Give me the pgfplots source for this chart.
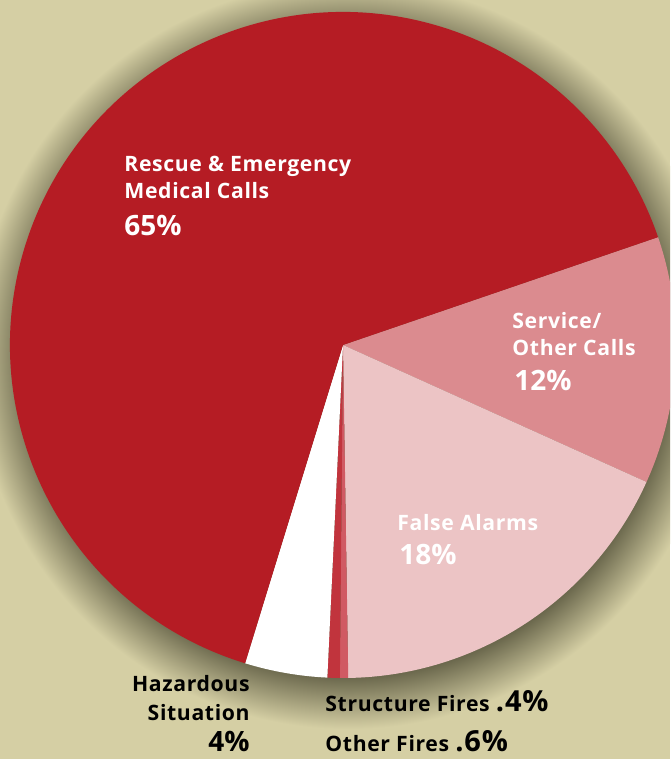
\documentclass[border=0pt]{standalone}
\usepackage{pgfplots}
\usepackage{pgfplotstable}
\pgfplotsset{compat=1.18}
\usepackage{fontspec}
\setmainfont{Open Sans}[LetterSpace=3]
\newfontfamily\numfont{Open Sans}
\definecolor{bgc}{HTML}{D5CFA4}
\definecolor{shad}{HTML}{6A674C}
\definecolor{slice0}{HTML}{DB8B8F}
\definecolor{slice1}{HTML}{ECC4C5}
\definecolor{slice2}{HTML}{D05A63}
\definecolor{slice3}{HTML}{C1343D}
\definecolor{slice4}{HTML}{FFFFFF}
\definecolor{slice5}{HTML}{B51C24}
\pgfdeclareradialshading{pieshadow}{\pgfpoint{0bp}{0bp}}{color(0bp)=(shad);color(21.5bp)=(shad);color(25bp)=(bgc)}
\pgfplotstableread[col sep=comma]{
name,value
Service/Other Calls,12
False Alarms,18
Structure Fires,0.4
Other Fires,0.6
Hazardous Situation,4
Rescue and Emergency Medical Calls,65
}\piedata
\begin{document}
\begin{tikzpicture}
\begin{axis}[
  x=0.5pt, y=0.5pt,
  xmin=0, xmax=670, ymin=0, ymax=759,
  axis lines=box, axis line style={draw=none}, ticks=none,
  axis background/.style={fill=bgc},
  clip=true,
]
\addplot[draw=none, forget plot] coordinates {(343,414)};
\shade[shading=pieshadow] (axis cs:348,404) circle[radius=187pt];
\def\cumangle{18.9}
\pgfplotsforeachungrouped \i in {0,...,5}{%
  \pgfplotstablegetelem{\i}{value}\of\piedata
  \pgfmathsetmacro\aone{\cumangle}%
  \pgfmathsetmacro\atwo{\cumangle-3.6*\pgfplotsretval}%
  \edef\temp{\noexpand\fill[slice\i] (axis cs:343,414) -- ([shift={(\aone:166.5pt)}]axis cs:343,414) arc[start angle=\aone, end angle=\atwo, radius=166.5pt] -- cycle;}%
  \temp
  \global\let\cumangle\atwo
}
\begin{scope}[every node/.style={inner sep=0pt, font=\bfseries\fontsize{10.6}{12}\selectfont}]
\node[white, anchor=base west] at (axis cs:124,587) {Rescue \& Emergency};
\node[white, anchor=base west] at (axis cs:124,560) {Medical Calls};
\node[white, anchor=base west, font=\numfont\bfseries\fontsize{14}{16}\selectfont] at (axis cs:124,523) {65\%};
\node[white, anchor=base west] at (axis cs:512,430) {Service/};
\node[white, anchor=base west] at (axis cs:512,403) {Other Calls};
\node[white, anchor=base west, font=\numfont\bfseries\fontsize{14}{16}\selectfont] at (axis cs:514,368) {12\%};
\node[white, anchor=base west] at (axis cs:397,228) {False Alarms};
\node[white, anchor=base west, font=\numfont\bfseries\fontsize{14}{16}\selectfont] at (axis cs:399,194) {18\%};
\node[black, anchor=base east] at (axis cs:250,67) {Hazardous};
\node[black, anchor=base east] at (axis cs:250,39) {Situation};
\node[black, anchor=base east, font=\numfont\bfseries\fontsize{14}{16}\selectfont] at (axis cs:250,7) {4\%};
\node[black, anchor=base west] at (axis cs:325,47) {Structure Fires {\fontsize{14.5}{16}\selectfont .4\%}};
\node[black, anchor=base west] at (axis cs:325,7) {Other Fires {\fontsize{14.5}{16}\selectfont .6\%}};
\end{scope}
\end{axis}
\end{tikzpicture}
\end{document}
